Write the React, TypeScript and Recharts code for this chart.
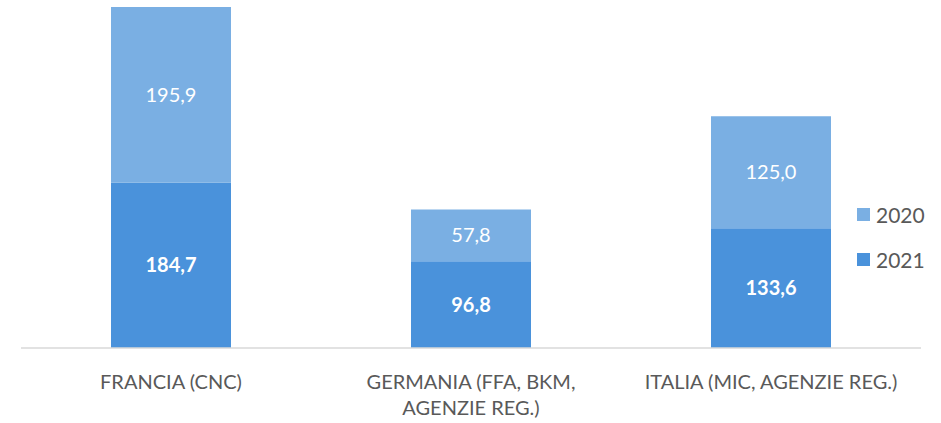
import React from 'react';
import { BarChart, Bar, XAxis, YAxis, LabelList, Legend } from 'recharts';

const categories = ['FRANCIA (CNC)', 'GERMANIA (FFA, BKM, AGENZIE REG.)', 'ITALIA (MIC, AGENZIE REG.)'];
const tickLines: string[][] = [
  ['FRANCIA (CNC)'],
  ['GERMANIA (FFA, BKM,', 'AGENZIE REG.)'],
  ['ITALIA (MIC, AGENZIE REG.)'],
];
const values2021 = [184.7, 96.8, 133.6];
const values2020 = [195.9, 57.8, 125.0];

const C2020 = '#7AAFE3';
const C2021 = '#4A92DB';
const FONT = 'Lato, "Open Sans", sans-serif';

const data = categories.map((c, i) => ({ name: c, idx: i, y2021: values2021[i], y2020: values2020[i] }));
const maxTotal = Math.max(...data.map((d) => d.y2021 + d.y2020));

const fmt = (v: any) => Number(v).toFixed(1).replace('.', ',');

const Tick = (props: any) => {
  const { x, y, index } = props;
  const lines = tickLines[index] || [];
  return (
    <g>
      {lines.map((l, k) => (
        <text key={k} x={x} y={y + 28 + k * 26} textAnchor="middle" fill="#595959" fontSize={20} fontFamily={FONT} dominantBaseline="middle">
          {l}
        </text>
      ))}
    </g>
  );
};

const LegendContent = () => (
  <div style={{ fontFamily: FONT, fontSize: 21, color: '#595959' }}>
    {[['2020', C2020], ['2021', C2021]].map(([label, color], k) => (
      <div key={label} style={{ display: 'flex', alignItems: 'center', height: 24, marginBottom: k === 0 ? 21 : 0 }}>
        <span style={{ display: 'inline-block', width: 13, height: 13, background: color, marginRight: 6 }} />
        <span>{label}</span>
      </div>
    ))}
  </div>
);

export default function App() {
  return (
    <div style={{ position: 'absolute', left: 0, top: 0 }}>
      <BarChart width={941} height={423} data={data} margin={{ top: 7, right: 20, left: 21, bottom: 0 }} barCategoryGap="30%">
        <XAxis dataKey="name" height={75} tick={<Tick />} tickLine={false} axisLine={{ stroke: '#D9D9D9', strokeWidth: 1.5 }} interval={0} />
        <YAxis hide domain={[0, maxTotal]} />
        <Legend layout="horizontal" verticalAlign="middle" align="center" content={<LegendContent />} wrapperStyle={{ position: 'absolute', left: 857, top: 202, width: 84 }} />
        <Bar dataKey="y2021" stackId="a" fill={C2021} isAnimationActive={false} barSize={120}>
          <LabelList dataKey="y2021" position="center" formatter={fmt} fill="#FFFFFF" fontSize={20} fontWeight="bold" fontFamily={FONT} />
        </Bar>
        <Bar dataKey="y2020" stackId="a" fill={C2020} isAnimationActive={false} barSize={120}>
          <LabelList dataKey="y2020" position="center" formatter={fmt} fill="#FFFFFF" fontSize={20} fontFamily={FONT} />
        </Bar>
      </BarChart>
    </div>
  );
}
